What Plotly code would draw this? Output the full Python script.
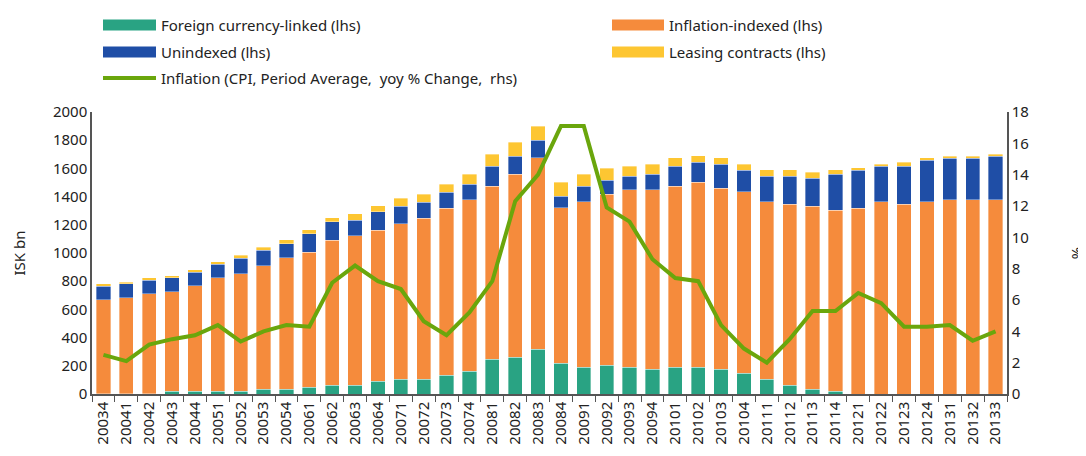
import plotly.graph_objects as go

quarters = ["20034", "20041", "20042", "20043", "20044", "20051", "20052", "20053", "20054",
            "20061", "20062", "20063", "20064", "20071", "20072", "20073", "20074",
            "20081", "20082", "20083", "20084", "20091", "20092", "20093", "20094",
            "20101", "20102", "20103", "20104", "20111", "20112", "20113", "20114",
            "20121", "20122", "20123", "20124", "20131", "20132", "20133"]

foreign_linked = [3, 2, 3, 19, 19, 19, 19, 33, 33, 47, 61, 61, 90, 104, 104, 132, 161,
                  246, 260, 317, 217, 189, 203, 189, 175, 189, 189, 175, 147, 104, 61, 33, 19,
                  0, 0, 0, 0, 0, 0, 0]
inflation_indexed = [666, 681, 709, 707, 749, 806, 834, 877, 934, 960, 1031, 1060, 1073, 1102,
                     1144, 1187, 1217, 1229, 1300, 1357, 1104, 1173, 1215, 1258, 1272, 1286,
                     1314, 1286, 1286, 1258, 1286, 1300, 1286, 1319, 1362, 1347, 1362, 1376,
                     1376, 1376]
unindexed = [95, 99, 96, 97, 97, 97, 111, 111, 97, 128, 128, 113, 128, 125, 111, 111, 109,
             140, 126, 125, 81, 111, 97, 97, 111, 140, 140, 168, 153, 182, 197, 197, 253,
             267, 253, 268, 295, 295, 295, 310]
leasing = [18, 12, 17, 16, 17, 17, 19, 19, 31, 30, 31, 45, 45, 59, 59, 59, 73, 87, 99, 99,
           101, 87, 85, 73, 73, 59, 45, 45, 45, 45, 45, 44, 31, 17, 16, 30, 17, 15, 15, 16]
inflation = [2.5, 2.1, 3.15, 3.5, 3.75, 4.4, 3.35, 4.0, 4.4, 4.3, 7.1, 8.2, 7.2, 6.7, 4.65,
             3.75, 5.2, 7.2, 12.3, 14.0, 17.1, 17.1, 11.9, 11.0, 8.6, 7.4, 7.2, 4.4, 2.9,
             2.0, 3.5, 5.3, 5.3, 6.45, 5.8, 4.3, 4.3, 4.4, 3.4, 4.0]

c_green = "#29a383"
c_orange = "#f58b3c"
c_blue = "#1f4ea6"
c_yellow = "#fdc632"
c_line = "#6aa60c"
txt = "#222222"
FONT = "Noto Sans"

fig = go.Figure()
for name, vals, col in [("Foreign currency-linked (lhs)", foreign_linked, c_green),
                        ("Inflation-indexed (lhs)", inflation_indexed, c_orange),
                        ("Unindexed (lhs)", unindexed, c_blue),
                        ("Leasing contracts (lhs)", leasing, c_yellow)]:
    fig.add_trace(go.Bar(x=quarters, y=vals, name=name, marker_color=col,
                         marker_line=dict(color="rgba(255,255,255,0.6)", width=0.6)))

fig.add_trace(go.Scatter(x=quarters, y=inflation, name="Inflation (CPI, Period Average,  yoy % Change,  rhs)",
                         mode="lines", line=dict(color=c_line, width=4), yaxis="y2"))

# plot area in screen pixels (page body has an 8px offset)
OFF = 8
L, R, T, B = 92, 1007, 112, 394
W, H = R - L, B - T
FW, FH = 1086 - OFF, 456 - OFF

def px(x):
    return (x - L) / W

def py(y):
    return (B - y) / H

shapes = []
annotations = []
legend_items = [
    (103, 156, 25, c_green, "Foreign currency-linked (lhs)", "bar"),
    (612, 664, 25, c_orange, "Inflation-indexed (lhs)", "bar"),
    (103, 156, 52, c_blue, "Unindexed (lhs)", "bar"),
    (612, 664, 52, c_yellow, "Leasing contracts (lhs)", "bar"),
    (103, 156, 78, c_line, "Inflation (CPI, Period Average,  yoy % Change,  rhs)", "line"),
]
for x0, x1, yc, col, label, kind in legend_items:
    if kind == "bar":
        shapes.append(dict(type="rect", xref="paper", yref="paper",
                           x0=px(x0), x1=px(x1), y0=py(yc + 5.5), y1=py(yc - 5.5),
                           fillcolor=col, line=dict(width=0)))
    else:
        shapes.append(dict(type="line", xref="paper", yref="paper",
                           x0=px(x0), x1=px(x1), y0=py(yc), y1=py(yc),
                           line=dict(color=col, width=4)))
    annotations.append(dict(xref="paper", yref="paper", x=px(x1 + 3), y=py(yc),
                            xanchor="left", yanchor="middle", text=label, showarrow=False,
                            font=dict(family=FONT, size=15, color=txt)))

fig.update_layout(
    width=FW, height=FH,
    margin=dict(l=L - OFF, r=FW - (R - OFF), t=T - OFF, b=FH - (B - OFF)),
    barmode="stack", bargap=0.38,
    paper_bgcolor="white", plot_bgcolor="white",
    showlegend=False,
    font=dict(family=FONT, size=15, color=txt),
    xaxis=dict(type="category", tickangle=-90, showline=True, linecolor="#555555", linewidth=1.5,
               ticks="outside", tickson="boundaries", ticklen=6, tickcolor="#555555",
               tickfont=dict(size=15, color=txt), showgrid=False, automargin=False),
    yaxis=dict(range=[0, 2000], dtick=200, showline=True, linecolor="#555555", linewidth=1.5,
               showgrid=False, zeroline=False, ticks="", tickfont=dict(size=15, color=txt),
               automargin=False,
               title=dict(text="ISK bn", font=dict(size=15, color=txt), standoff=24)),
    yaxis2=dict(range=[0, 18], dtick=2, overlaying="y", side="right", showline=True,
                linecolor="#555555", linewidth=1.5, showgrid=False, zeroline=False, ticks="",
                tickfont=dict(size=15, color=txt), automargin=False,
                title=dict(text="%", font=dict(size=15, color=txt), standoff=46)),
    shapes=shapes,
    annotations=annotations,
)

fig.write_html("out.html")
